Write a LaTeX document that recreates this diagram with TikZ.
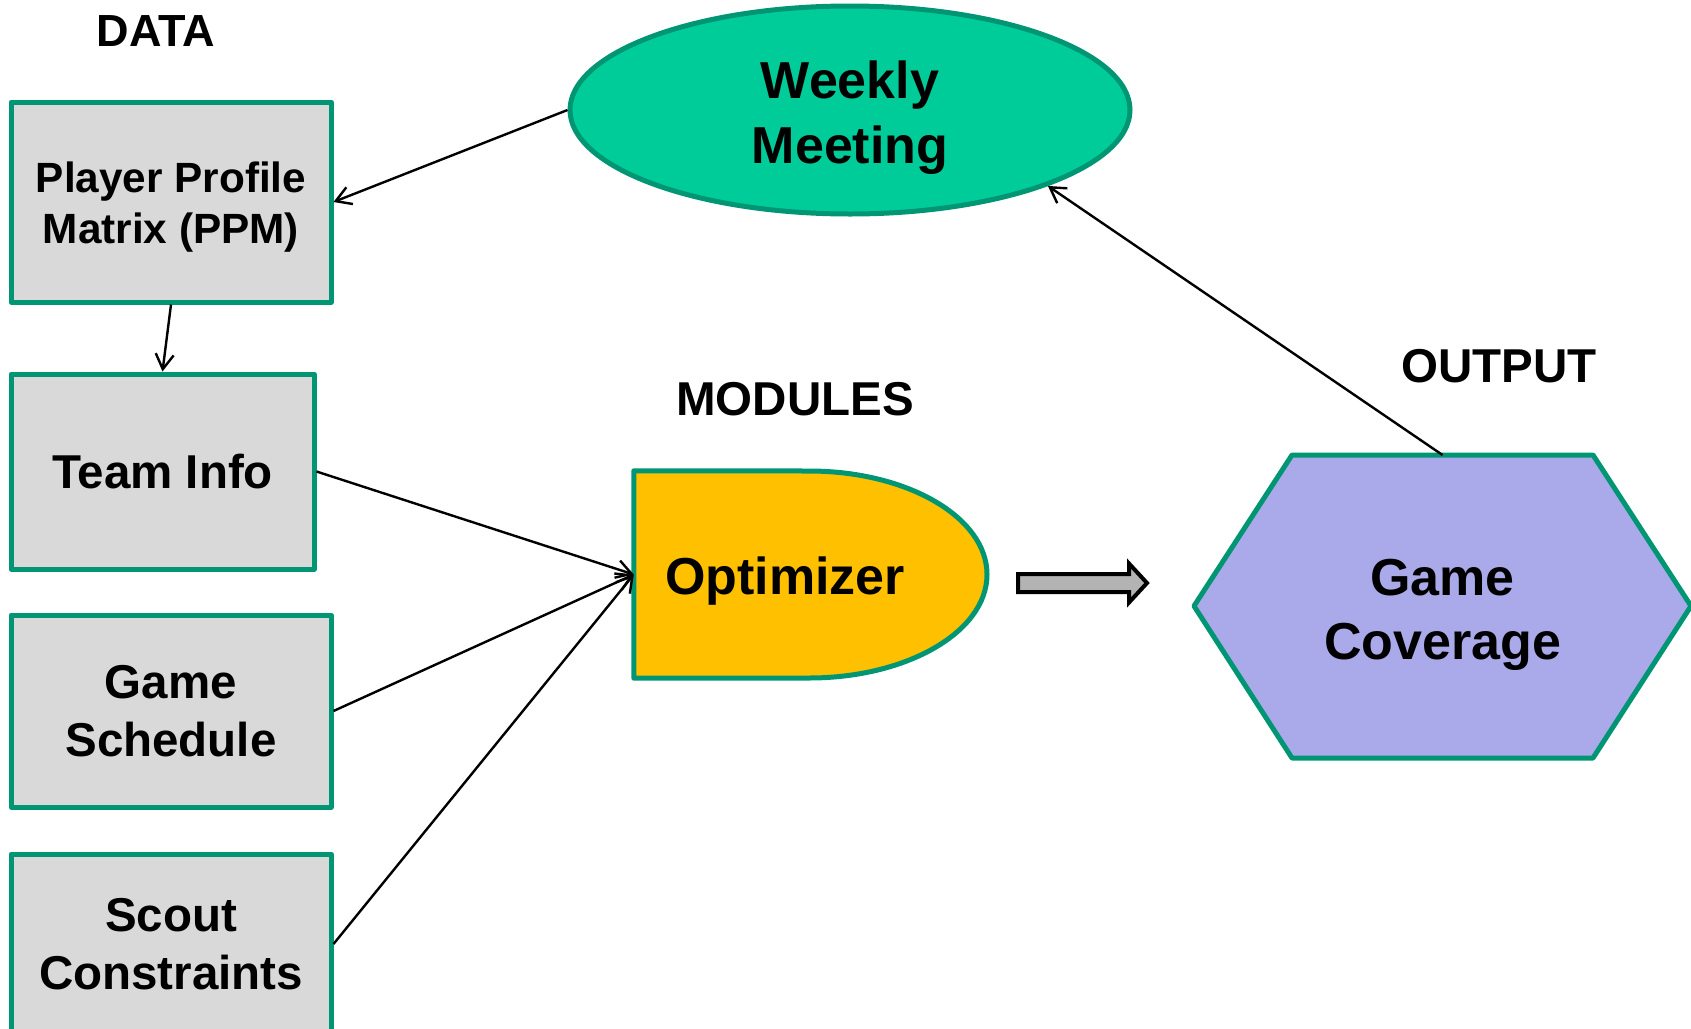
\documentclass[tikz,border=0pt]{standalone}
\usepackage{fontspec}
\setmainfont{Liberation Sans}
\usetikzlibrary{shapes.geometric,arrows.meta}

\definecolor{edgegreen}{RGB}{0,150,115}
\definecolor{boxgray}{RGB}{217,217,217}
\definecolor{meetgreen}{RGB}{0,204,153}
\definecolor{optgold}{RGB}{255,192,0}
\definecolor{covblue}{RGB}{170,170,234}
\definecolor{arrowgray}{RGB}{179,179,179}

% bold face at a given size and line distance (in pt)
\newcommand{\bsz}[2]{\fontsize{#1pt}{#2pt}\selectfont\bfseries}

\begin{document}
\begin{tikzpicture}[x=1pt,y=-1pt,
  outline/.style={draw=edgegreen, line width=5pt, line join=round},
  databox/.style={outline, fill=boxgray, rectangle, inner sep=0pt, align=center},
  link/.style={draw=black, line width=2.4pt, -{Straight Barb[length=15pt,width=18pt]}},
  heading/.style={font=\bsz{47.5}{58}, inner sep=0pt},
  label/.style={inner sep=0pt, align=center},
]
\useasboundingbox (0,0) rectangle (1691,1028);

% section headings
\node[heading, font=\bsz{45}{54}] (hdata) at (156,31) {DATA};
\node[heading] (hmod) at (795,399) {MODULES};
\node[heading] (hout) at (1499,366) {OUTPUT};

% data inputs
\node[databox, minimum width=320, minimum height=200] (ppm) at (171,202) {};
\node[label, font=\bsz{42.3}{51}] (ppmlabel) at (171,207) {Player Profile\\Matrix (PPM)};
\node[databox, minimum width=303, minimum height=195, font=\bsz{47.5}{58}]
  (team) at (162.5,471.5) {Team Info};
\node[databox, minimum width=320, minimum height=192, font=\bsz{47.5}{58}]
  (sched) at (171,711) {Game\\Schedule};
\node[databox, minimum width=320, minimum height=180, font=\bsz{47.5}{58}]
  (scout) at (171,944) {Scout\\Constraints};

% weekly meeting
\node[outline, ellipse, fill=meetgreen, minimum width=560, minimum height=208,
  inner sep=0pt] (wm) at (850,110) {};
\node[label, font=\bsz{52}{65}] (wmlabel) at (850,118) {Weekly\\Meeting};

% optimizer module: flat left side, half-ellipse on the right
\node[minimum width=353, minimum height=207, inner sep=0pt] (opt) at (810.5,574.5) {};
\draw[outline, fill=optgold]
  (opt.north west) -- (809,471) arc[start angle=-90, end angle=90, x radius=178, y radius=103.5]
  -- (opt.south west) -- cycle;
\node[label, font=\bsz{52}{65}] (optlabel) at (785,581) {Optimizer};

% game coverage output
\draw[outline, fill=covblue]
  (1292,455) -- (1593,455) -- (1691,606) -- (1593,758) -- (1292,758) -- (1194,606) -- cycle;
\node[label, font=\bsz{52}{64}] (cov) at (1442.5,615) {Game\\Coverage};
\coordinate (covtop) at (1442.5,455);

% block arrow from the module to the output
\draw[line width=4pt, fill=arrowgray, line join=miter]
  (1018,574) -- (1129,574) -- (1129,563.5) -- (1147,583) -- (1129,602.5)
  -- (1129,592) -- (1018,592) -- cycle;

% connectors
\draw[link] (wm.west) -- (ppm.east);
\draw[link] (ppm.south) -- (team.north);
\draw[link] (team.east) -- (opt.west);
\draw[link] (sched.east) -- (opt.west);
\draw[link] (scout.east) -- (opt.west);
\draw[link] (covtop) -- (wm.-21);
\end{tikzpicture}
\end{document}
